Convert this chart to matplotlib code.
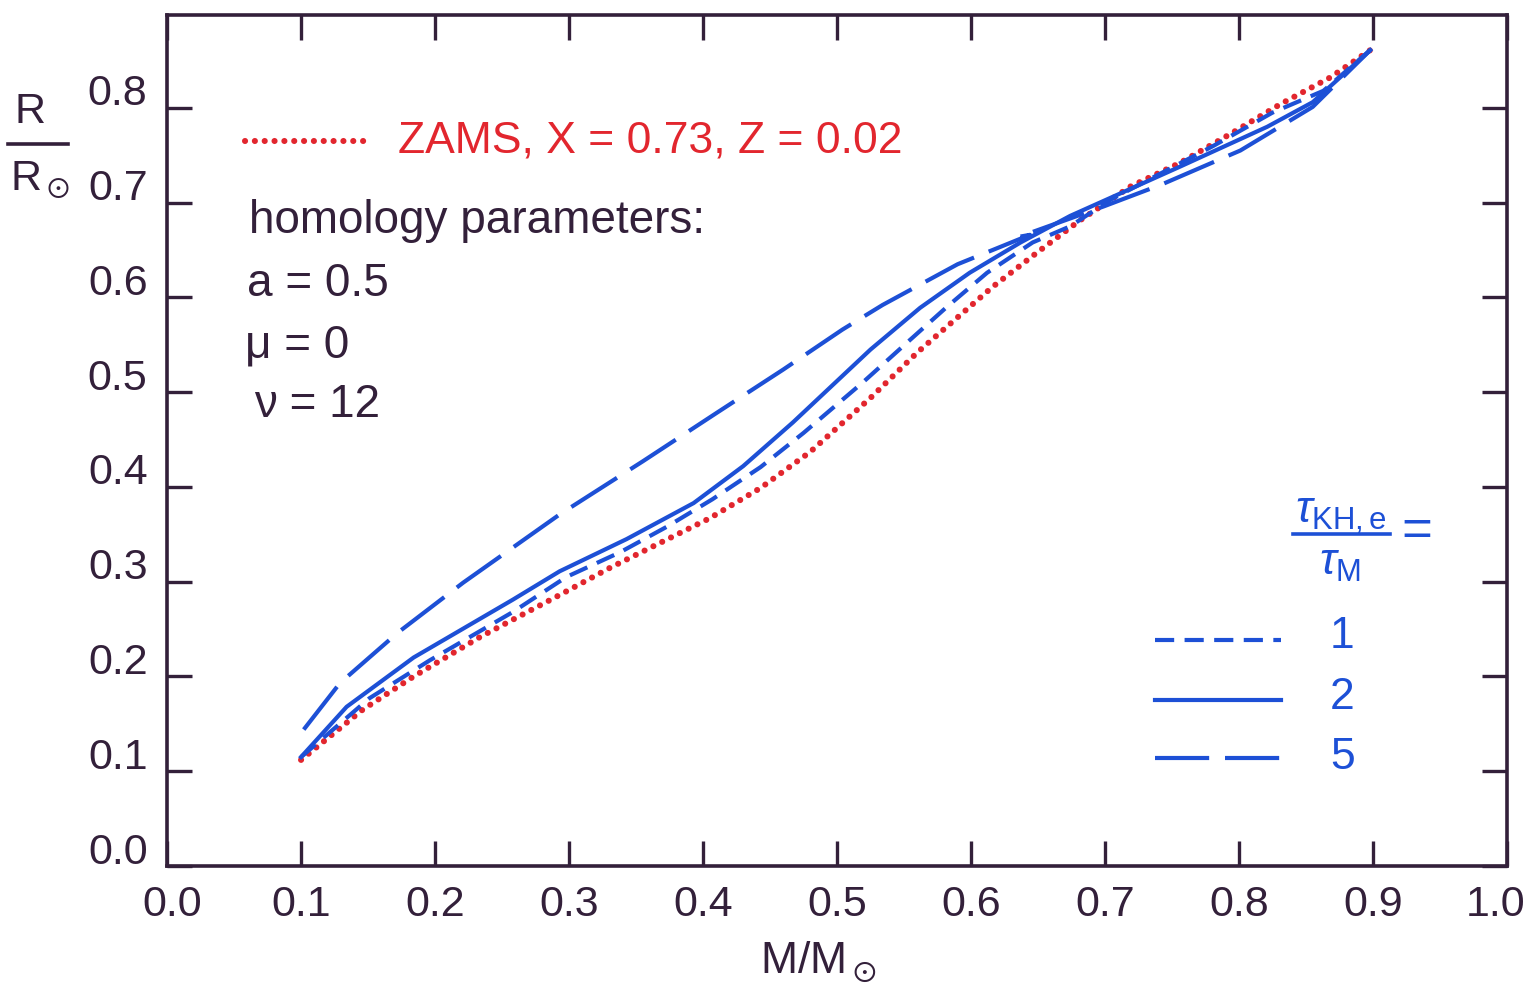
import matplotlib as mpl
import matplotlib.pyplot as plt
import matplotlib.transforms as mtransforms
import numpy as np

mpl.rcParams["font.family"] = ['Liberation Sans', 'DejaVu Sans']
mpl.rcParams["mathtext.fontset"] = 'custom'
mpl.rcParams["mathtext.rm"] = 'Liberation Sans'
mpl.rcParams["mathtext.it"] = 'Liberation Sans:italic'
mpl.rcParams["mathtext.fallback"] = 'stixsans'

# ZAMS, X = 0.73, Z = 0.02 (red dotted)
m_zams = [0.100, 0.146, 0.184, 0.234, 0.293, 0.331, 0.368, 0.405, 0.443, 0.480, 0.525, 0.560,
          0.590, 0.616, 0.649, 0.681, 0.719, 0.756, 0.793, 0.831, 0.868, 0.898]
r_zams = [0.112, 0.165, 0.200, 0.242, 0.286, 0.315, 0.341, 0.367, 0.399, 0.437, 0.494, 0.542,
          0.579, 0.611, 0.647, 0.681, 0.717, 0.742, 0.772, 0.804, 0.832, 0.861]
# tau ratio = 1 (short dashes)
m_t1 = [0.100, 0.151, 0.196, 0.258, 0.298, 0.338, 0.373, 0.407, 0.443, 0.475, 0.519, 0.552,
        0.582, 0.612, 0.646, 0.674, 0.704, 0.781, 0.825, 0.863, 0.898]
r_t1 = [0.115, 0.177, 0.217, 0.268, 0.305, 0.331, 0.358, 0.387, 0.421, 0.457, 0.510, 0.552,
        0.590, 0.626, 0.658, 0.675, 0.703, 0.760, 0.795, 0.818, 0.861]
# tau ratio = 2 (solid)
m_t2 = [0.100, 0.134, 0.184, 0.258, 0.293, 0.343, 0.393, 0.430, 0.467, 0.525, 0.562, 0.599,
        0.637, 0.674, 0.704, 0.756, 0.821, 0.855, 0.898]
r_t2 = [0.115, 0.168, 0.220, 0.281, 0.311, 0.345, 0.383, 0.422, 0.468, 0.545, 0.589, 0.626,
        0.658, 0.686, 0.705, 0.738, 0.780, 0.806, 0.861]
# tau ratio = 5 (long dashes)
m_t5 = [0.102, 0.129, 0.172, 0.221, 0.293, 0.355, 0.410, 0.460, 0.504, 0.534, 0.590, 0.644,
        0.636, 0.699, 0.742, 0.801, 0.855, 0.898]
r_t5 = [0.144, 0.193, 0.246, 0.299, 0.371, 0.427, 0.478, 0.524, 0.566, 0.592, 0.635, 0.666,
        0.664, 0.696, 0.719, 0.755, 0.801, 0.861]

xticks = np.round(np.arange(0, 1.01, 0.1), 1)
yticks = np.round(np.arange(0, 0.81, 0.1), 1)

dark = '#33203a'
blue = '#1d50d6'
red = '#e2262e'

fig = plt.figure(figsize=(15.27, 9.99), dpi=100)
ax = fig.add_axes([0.1094, 0.1331, 0.8775, 0.8519])
ax.set_xlim(0, 1.0)
ax.set_ylim(0, 0.898)

dots = (0, (0.01, 1.6))
short = (0, (4.6, 2.5))
longd = (0, (13, 3.8))
ax.plot(m_zams, r_zams, color=red, lw=4.4, linestyle=dots, dash_capstyle='round')
ax.plot(m_t1, r_t1, color=blue, lw=3.0, linestyle=short)
ax.plot(m_t2, r_t2, color=blue, lw=3.0, linestyle='-')
ax.plot(m_t5, r_t5, color=blue, lw=3.0, linestyle=longd)

for s in ax.spines.values():
    s.set_color(dark)
    s.set_linewidth(2.6)
ax.set_xticks(xticks)
ax.set_yticks(yticks)
ax.set_xticklabels([f'{v:.1f}' for v in xticks])
ax.set_yticklabels([f'{v:.1f}' for v in yticks])
ax.tick_params(direction='in', length=18, width=2.4, color=dark, top=True, right=True,
               labelcolor=dark, labelsize=31)
ax.tick_params(axis='x', pad=14)
ax.tick_params(axis='y', pad=14)
off = mtransforms.ScaledTranslation(0, 0.18, fig.dpi_scale_trans)
for lab in ax.get_yticklabels():
    lab.set_transform(lab.get_transform() + off)
xl = ax.get_xticklabels()
xl[0].set_transform(xl[0].get_transform() + mtransforms.ScaledTranslation(0.05, 0, fig.dpi_scale_trans))
xl[-1].set_transform(xl[-1].get_transform() + mtransforms.ScaledTranslation(-0.11, 0, fig.dpi_scale_trans))

# axis labels
fig.text(30 / 1527, 1 - 112 / 999, 'R', ha='center', va='center', fontsize=31, color=dark)
fig.add_artist(plt.Line2D([8 / 1527, 68 / 1527], [1 - 144 / 999, 1 - 144 / 999], color=dark, lw=2.6))
fig.text(40 / 1527, 1 - 180 / 999, r'R$_\odot$', ha='center', va='center', fontsize=31, color=dark)
fig.text(818 / 1527, 1 - 962 / 999, r'M/M$_\odot$', ha='center', va='center', fontsize=32, color=dark)

# ZAMS key
ax.plot([0.058, 0.150], [0.765, 0.765], color=red, lw=4.4, linestyle=dots, dash_capstyle='round')
ax.text(0.172, 0.753, 'ZAMS, X = 0.73, Z = 0.02', color=red, fontsize=32, va='baseline')

# homology parameters
ax.text(0.061, 0.668, 'homology parameters:', color=dark, fontsize=33, va='baseline')
ax.text(0.060, 0.601, 'a = 0.5', color=dark, fontsize=33, va='baseline')
ax.text(0.058, 0.537, 'μ = 0', color=dark, fontsize=33, va='baseline')
ax.text(0.065, 0.474, 'ν = 12', color=dark, fontsize=33, va='baseline')

# tau legend
ax.text(0.876, 0.362, r'$\tau_{\mathrm{KH,e}}$', color=blue, fontsize=32, ha='center', va='baseline')
ax.plot([0.840, 0.913], [0.350, 0.350], color=blue, lw=2.6)
ax.text(0.875, 0.307, r'$\tau_{\mathrm{M}}$', color=blue, fontsize=32, ha='center', va='baseline')
ax.text(0.933, 0.352, '=', color=blue, fontsize=38, ha='center', va='center')

ax.plot([0.737, 0.831], [0.239, 0.239], color=blue, lw=3.0, linestyle=short)
ax.plot([0.737, 0.831], [0.175, 0.175], color=blue, lw=3.0, linestyle='-')
ax.plot([0.737, 0.831], [0.114, 0.114], color=blue, lw=3.0, linestyle=longd)
for yy, lab in zip([0.242, 0.178, 0.115], ['1', '2', '5']):
    ax.text(0.877, yy, lab, color=blue, fontsize=32, ha='center', va='center')

plt.savefig('out.png', dpi=100)
